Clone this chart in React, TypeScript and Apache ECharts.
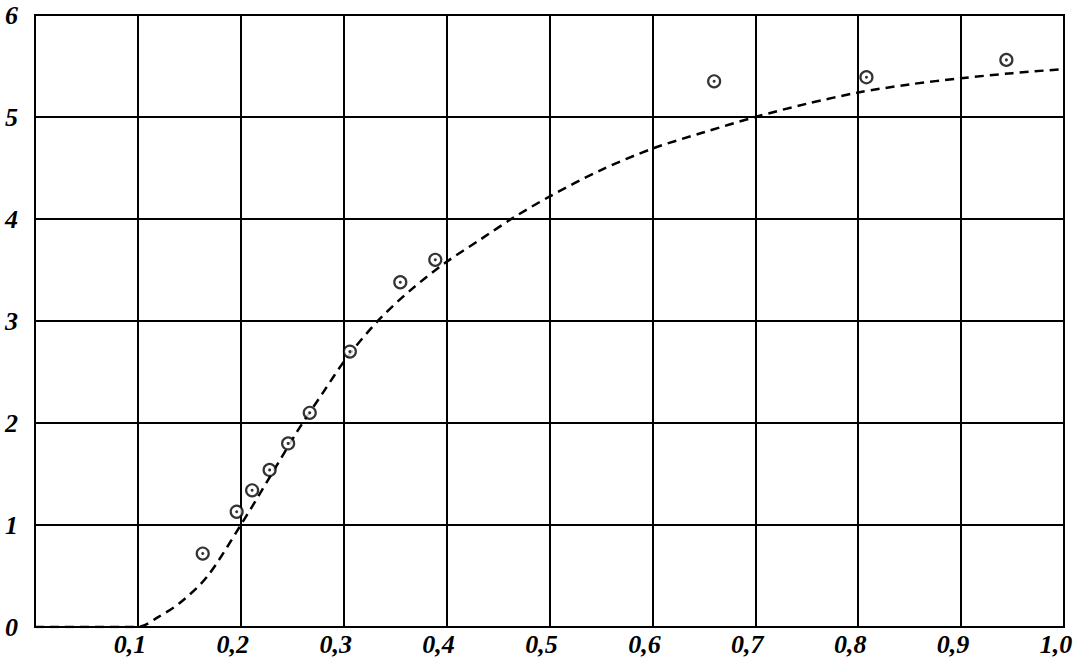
import React, { useEffect, useRef } from "react";
import * as echarts from "echarts";

const pointX = [0.163, 0.196, 0.211, 0.228, 0.246, 0.267, 0.306, 0.355, 0.389, 0.66, 0.808, 0.944];
const pointY = [0.72, 1.13, 1.34, 1.54, 1.8, 2.1, 2.7, 3.38, 3.6, 5.35, 5.39, 5.56];

const curveX = [0, 0.1, 0.12, 0.14, 0.167, 0.2, 0.23, 0.255, 0.28, 0.303, 0.335, 0.367, 0.4, 0.433, 0.466, 0.5, 0.55, 0.6, 0.65, 0.7, 0.75, 0.8, 0.85, 0.9, 0.95, 1.0];
const curveY = [0, 0, 0.1, 0.23, 0.49, 1.0, 1.5, 1.92, 2.3, 2.64, 3.02, 3.32, 3.58, 3.8, 4.02, 4.22, 4.48, 4.69, 4.85, 5.0, 5.13, 5.24, 5.32, 5.38, 5.43, 5.47];

const fmt = (v: number) => (v === 0 ? "" : v.toFixed(1).replace(".", ","));

export default function App() {
  const ref = useRef<HTMLDivElement>(null);
  useEffect(() => {
    document.body.style.margin = "0";
    const chart = echarts.init(ref.current!, null, { renderer: "svg" });
    const labelFont = {
      fontFamily: "Liberation Serif",
      fontStyle: "italic" as const,
      fontWeight: "bold" as const,
      fontSize: 26,
      color: "#000",
    };
    chart.setOption({
      animation: false,
      backgroundColor: "#fff",
      grid: {
        left: 35,
        right: 16,
        top: 15,
        bottom: 34,
        show: true,
        borderColor: "#000",
        borderWidth: 2,
      },
      xAxis: {
        type: "value",
        min: 0,
        max: 1,
        interval: 0.1,
        axisLine: { show: true, lineStyle: { color: "#000", width: 2 } },
        axisTick: { show: false },
        splitLine: { show: true, lineStyle: { color: "#000", width: 2 } },
        axisLabel: {
          ...labelFont,
          formatter: fmt,
          margin: 4,
          padding: [0, 16, 0, 0],
          showMaxLabel: true,
        },
      },
      yAxis: {
        type: "value",
        min: 0,
        max: 6,
        interval: 1,
        axisLine: { show: true, lineStyle: { color: "#000", width: 2 } },
        axisTick: { show: false },
        splitLine: { show: true, lineStyle: { color: "#000", width: 2 } },
        axisLabel: {
          ...labelFont,
          margin: 17,
          showMaxLabel: true,
        },
      },
      series: [
        {
          type: "line",
          data: curveX.map((x, i) => [x, curveY[i]]),
          smooth: 0.3,
          showSymbol: false,
          lineStyle: { color: "#000", width: 2.5, type: [9, 6] },
          z: 3,
        },
        {
          type: "scatter",
          data: pointX.map((x, i) => [x, pointY[i]]),
          symbol: "circle",
          symbolSize: 12,
          itemStyle: { color: "#fff", borderColor: "#000", borderWidth: 2.2 },
          z: 4,
        },
        {
          type: "scatter",
          data: pointX.map((x, i) => [x, pointY[i]]),
          symbol: "circle",
          symbolSize: 3,
          itemStyle: { color: "#000" },
          z: 5,
        },
      ],
    });
    return () => chart.dispose();
  }, []);
  return <div ref={ref} style={{ width: 1080, height: 661 }} />;
}
